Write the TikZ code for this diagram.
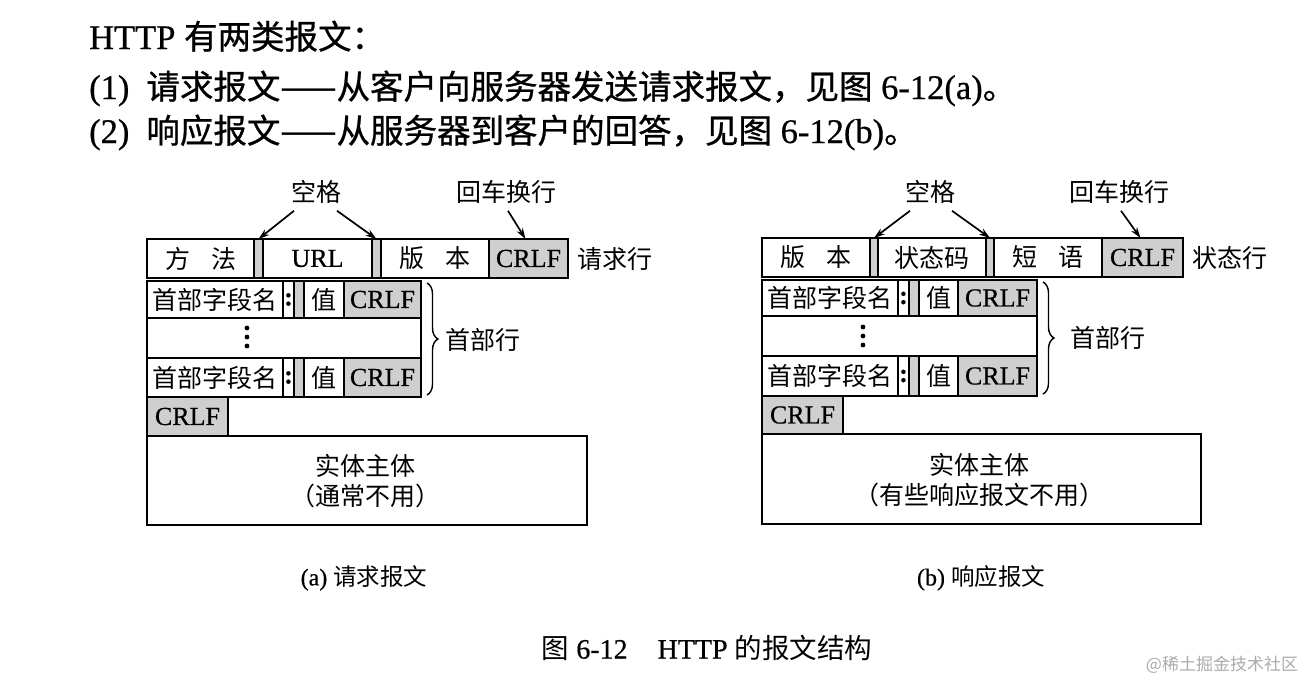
\documentclass[tikz,border=0pt]{standalone}
\usepackage{fontspec}
\setmainfont{Liberation Serif}[FakeBold=0.6]
\newfontfamily\cjk{Noto Sans CJK SC}
\newfontfamily\cjkt{Noto Sans CJK SC}[FakeBold=0.8]
\usetikzlibrary{arrows.meta,decorations.pathreplacing,calc}
\newcommand\dfont{\fontsize{26}{30}\selectfont}
\newcommand\zh[1]{{\cjk\fontsize{25}{29}\selectfont #1}}
\newcommand\zt[1]{{\cjkt\fontsize{33.5}{38}\selectfont #1}}
\newcommand\bx[7]{\node[#6, anchor=north west, minimum width=#4pt-#2pt, minimum height=#5pt-#3pt] (#1) at (#2,#3) {#7};}
\tikzset{
  cell/.style={draw, line width=1.6pt, inner sep=0pt, outer sep=0pt, font=\dfont},
  shadecell/.style={cell, fill=black!19},
  lbl/.style={font=\dfont, inner sep=0pt},
  arr/.style={line width=1.7pt, -{Stealth[length=11pt,width=7pt]}},
  brc/.style={decorate, decoration={brace, amplitude=11pt}, line width=1.4pt},
  bodytext/.style={inner sep=0pt, align=center, font=\cjk\fontsize{25}{30}\selectfont},
  toptext/.style={anchor=base west, inner sep=0pt, font=\fontsize{34.5}{40}\selectfont},
}
\begin{document}
\begin{tikzpicture}[x=1pt,y=-1pt]
\fill[white] (0,0) rectangle (1309,686);
\useasboundingbox (0,0) rectangle (1309,686);

% top text
\node[toptext] (t1) at (89,49) {HTTP \zt{有两类报文：}};
\node[toptext] (t2) at (89,99) {(1)\hspace{17pt}\zt{请求报文——从客户向服务器发送请求报文，见图} 6-12(a)\zt{。}};
\node[toptext] (t3) at (89,143) {(2)\hspace{17pt}\zt{响应报文——从服务器到客户的回答，见图} 6-12(b)\zt{。}};

% ---------- (a) request message ----------
\bx{a1}{147}{239}{254}{278}{cell}{\zh{方\hspace{21pt}法}}
\bx{s1}{254}{239}{263}{278}{shadecell}{}
\bx{a2}{263}{239}{372}{278}{cell}{URL}
\bx{s2}{372}{239}{381}{278}{shadecell}{}
\bx{a3}{381}{239}{489}{278}{cell}{\zh{版\hspace{21pt}本}}
\bx{a4}{489}{239}{568}{278}{shadecell}{CRLF}
\node[lbl, anchor=west] (l1) at (577,259) {\zh{请求行}};

\bx{h1n}{147}{281}{283}{318}{cell}{\zh{首部字段名}}
\bx{h1c}{283}{281}{294}{318}{cell}{\textbf{:}}
\bx{h1s}{294}{281}{304}{318}{shadecell}{}
\bx{h1v}{304}{281}{344}{318}{cell}{\zh{值}}
\bx{h1r}{344}{281}{421}{318}{shadecell}{CRLF}
\bx{h2}{147}{318}{421}{358}{cell}{}
\foreach \yy in {328,337,346} \fill (247,\yy) circle (2.4pt);
\bx{h3n}{147}{358}{283}{397}{cell}{\zh{首部字段名}}
\bx{h3c}{283}{358}{294}{397}{cell}{\textbf{:}}
\bx{h3s}{294}{358}{304}{397}{shadecell}{}
\bx{h3v}{304}{358}{344}{397}{cell}{\zh{值}}
\bx{h3r}{344}{358}{421}{397}{shadecell}{CRLF}
\bx{cr}{147}{397}{228}{436}{shadecell}{CRLF}
\bx{body}{147}{436}{587}{525}{cell}{}
\node[bodytext] (bt) at (365,481) {实体主体\\（通常不用）};

\node[lbl] (k1) at (316,192) {\zh{空格}};
\node[lbl] (c1) at (506,192) {\zh{回车换行}};
\draw[arr] ($(k1.south)+(-22,7)$) -- (s1.north);
\draw[arr] ($(k1.south)+(21,7)$) -- (s2.north);
\draw[arr] ($(c1.south)+(2,7)$) -- ($(a4.north)+(-3,0)$);
\draw[brc] ($(h1r.north east)+(6,2)$) -- ($(h3r.south east)+(6,-2)$);
\node[lbl, anchor=west] (hl1) at (445,340) {\zh{首部行}};
\node[inner sep=0pt, font=\fontsize{24}{28}\selectfont] (capa) at (364,578) {(a) \zh{\fontsize{23.5}{28}\selectfont 请求报文}};

% ---------- (b) response message ----------
\bx{r1}{762}{238}{870}{277}{cell}{\zh{版\hspace{21pt}本}}
\bx{rs1}{870}{238}{878}{277}{shadecell}{}
\bx{r2}{878}{238}{986}{277}{cell}{\zh{状态码}}
\bx{rs2}{986}{238}{994}{277}{shadecell}{}
\bx{r3}{994}{238}{1102}{277}{cell}{\zh{短\hspace{21pt}语}}
\bx{r4}{1102}{238}{1183}{277}{shadecell}{CRLF}
\node[lbl, anchor=west] (l2) at (1192,258) {\zh{状态行}};

\bx{g1n}{762}{280}{898}{316}{cell}{\zh{首部字段名}}
\bx{g1c}{898}{280}{909}{316}{cell}{\textbf{:}}
\bx{g1s}{909}{280}{919}{316}{shadecell}{}
\bx{g1v}{919}{280}{958}{316}{cell}{\zh{值}}
\bx{g1r}{958}{280}{1037}{316}{shadecell}{CRLF}
\bx{g2}{762}{316}{1037}{356}{cell}{}
\foreach \yy in {327,336,345} \fill (863,\yy) circle (2.4pt);
\bx{g3n}{762}{356}{898}{396}{cell}{\zh{首部字段名}}
\bx{g3c}{898}{356}{909}{396}{cell}{\textbf{:}}
\bx{g3s}{909}{356}{919}{396}{shadecell}{}
\bx{g3v}{919}{356}{958}{396}{cell}{\zh{值}}
\bx{g3r}{958}{356}{1037}{396}{shadecell}{CRLF}
\bx{cr2}{762}{396}{843}{434}{shadecell}{CRLF}
\bx{body2}{762}{434}{1201}{524}{cell}{}
\node[bodytext] (bt2) at (979,480) {实体主体\\（有些响应报文不用）};

\node[lbl] (k2) at (930,192) {\zh{空格}};
\node[lbl] (c2) at (1119,192) {\zh{回车换行}};
\draw[arr] ($(k2.south)+(-20,7)$) -- (rs1.north);
\draw[arr] ($(k2.south)+(22,7)$) -- (rs2.north);
\draw[arr] ($(c2.south)+(2,7)$) -- ($(r4.north)+(-2,0)$);
\draw[brc] ($(g1r.north east)+(6,2)$) -- ($(g3r.south east)+(6,-2)$);
\node[lbl, anchor=west] (hl2) at (1070,338) {\zh{首部行}};
\node[inner sep=0pt, font=\fontsize{24}{28}\selectfont] (capb) at (981,578) {(b) \zh{\fontsize{23.5}{28}\selectfont 响应报文}};

% figure caption and watermark
\node[inner sep=0pt, font=\fontsize{28}{32}\selectfont] (fig) at (707,648) {\zh{\fontsize{27.5}{32}\selectfont 图} 6-12\hspace{30pt}HTTP \zh{\fontsize{27.5}{32}\selectfont 的报文结构}};
\node[inner sep=0pt, text=black!33] (wm) at (1222,665) {\cjk\fontsize{17}{20}\selectfont @稀土掘金技术社区};
\end{tikzpicture}
\end{document}
